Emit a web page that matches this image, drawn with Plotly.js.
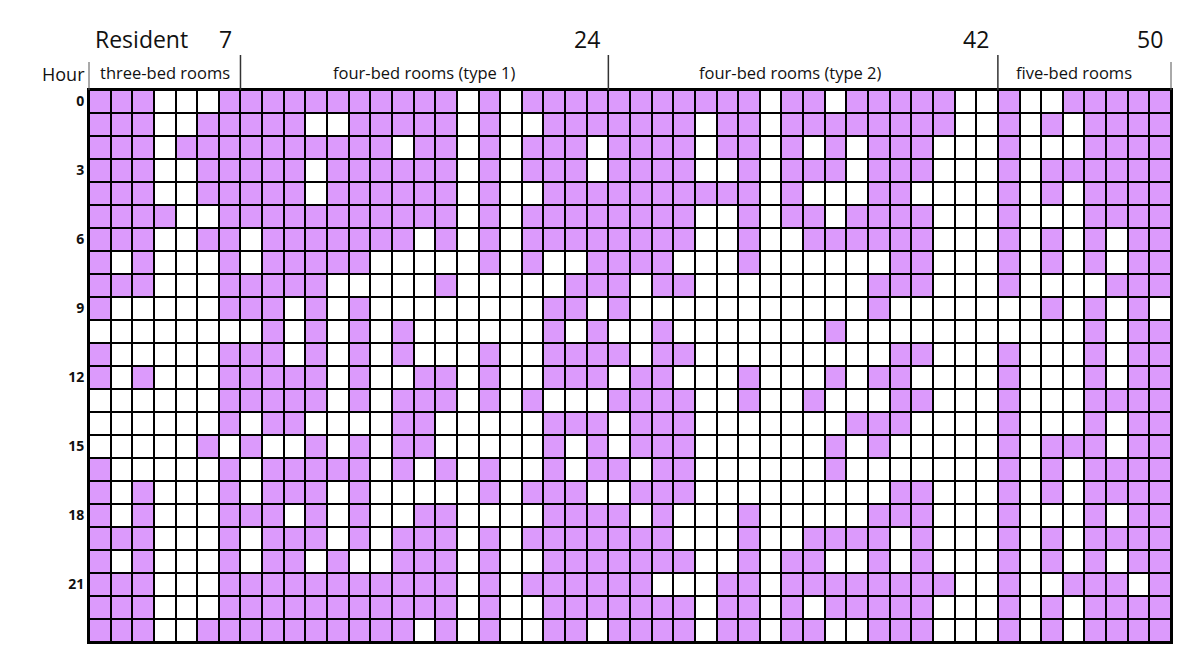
<!DOCTYPE html>
<html>
<head>
<meta charset="utf-8">
<script src="https://cdn.plot.ly/plotly-3.0.1.min.js"></script>
<style>
  html, body { margin: 0; padding: 0; background: #ffffff; }
  #chart { width: 1177px; height: 660px; }
</style>
</head>
<body>
<div id="chart"></div>
<script>
// ---------- data ----------
const residents = [];
for (let i = 1; i <= 50; i++) residents.push(i);
const hours = [];
for (let h = 0; h <= 23; h++) hours.push(h);
const hourTicks = [0, 3, 6, 9, 12, 15, 18, 21];

const groupNames = ["three-bed rooms", "four-bed rooms (type 1)", "four-bed rooms (type 2)", "five-bed rooms"];
const groupFirst = [1, 8, 25, 43];
const groupLast = [7, 24, 42, 50];

// 1 = present (purple), 0 = absent (white); one string per hour, residents 1..50
const presence = [
  "1110001111111 1111010111111 1111101101111 10010011111",
  "1110011111001 1111010011111 1101101111111 10010101111",
  "1110111111111 1011010111011 1101101010111 00010001111",
  "1110011111011 1111010111011 1100101110111 00010111111",
  "1110011111011 1111010011111 1111101000110 00010101111",
  "1111001111111 1111010111111 1100101101111 00010001111",
  "1110011011111 1101010111111 1100100111111 00010101011",
  "1010001011111 0000010100111 1000100000011 00010101011",
  "1110001111100 0001000001110 1100000000111 00010000111",
  "1000001110101 0000000011010 0000000000100 00000101010",
  "0000000010101 0100000010100 1000000010000 00000001011",
  "1000001110101 0100010011110 1100000000011 00010001011",
  "1010001111101 0011010011101 1000100010110 00010001011",
  "0000001111101 0111010100011 1100100100011 00010001111",
  "0000001011000 0110000011101 1100000001110 00010001011",
  "0000010100101 0110000010101 1100000010100 00010111011",
  "1000001011111 0101010010110 1100000010000 00010101111",
  "1010001011101 0000010111001 1100000000011 00010101111",
  "1010001110101 0011000011110 1000100000111 00010001011",
  "1110001011101 0111010111111 1000100111101 00010101111",
  "1010001011010 0111010011111 1100101100101 00010101011",
  "1110001111111 1111010111111 0001101111111 10010011101",
  "1110001111111 1111010011111 1101101011111 00010101111",
  "1110011111111 1101010011011 1101101100111 00010101111"
];

// ---------- build ----------
const z = presence.map(s => s.replace(/\s/g, '').split('').map(Number));
const PURPLE = '#DC9AFC';
const FONT = "'Open Sans', 'Liberation Sans', sans-serif";
const labelShift = [0, 0, -0.6, -0.5]; // small horizontal nudges of group labels

const trace = {
  type: 'heatmap',
  x: residents,
  y: hours,
  z: z,
  zmin: 0, zmax: 1,
  colorscale: [[0, '#ffffff'], [0.5, '#ffffff'], [0.5, PURPLE], [1, PURPLE]],
  showscale: false,
  xgap: 2, ygap: 2,
  hovertemplate: 'Resident %{x}<br>Hour %{y}<extra></extra>'
};

const plotH = 552;
const pyAbove = px => 1 + px / plotH; // px above the top of the grid -> paper y

const annotations = [];
const shapes = [];

annotations.push({ xref: 'paper', yref: 'paper', x: 0.004, y: pyAbove(51), xanchor: 'left', yanchor: 'middle',
  text: 'Resident', showarrow: false, font: { family: FONT, size: 23, color: '#111' } });
annotations.push({ xref: 'paper', yref: 'paper', x: -0.002, y: pyAbove(16), xanchor: 'right', yanchor: 'middle',
  text: 'Hour', showarrow: false, font: { family: FONT, size: 18, color: '#111', weight: 500 } });

for (let g = 0; g < groupNames.length; g++) {
  annotations.push({ xref: 'x', yref: 'paper', x: (groupFirst[g] + groupLast[g]) / 2 + labelShift[g], y: pyAbove(17),
    xanchor: 'center', yanchor: 'middle', text: groupNames[g], showarrow: false,
    font: { family: FONT, size: 16.5, color: '#111' } });
  annotations.push({ xref: 'x', yref: 'paper', x: groupLast[g] + 0.2, y: pyAbove(51),
    xanchor: 'right', yanchor: 'middle', text: String(groupLast[g]), showarrow: false,
    font: { family: FONT, size: 23, color: '#111' } });
  if (g < groupNames.length - 1) {
    shapes.push({ type: 'line', xref: 'x', yref: 'paper', x0: groupLast[g] + 0.5, x1: groupLast[g] + 0.5,
      y0: 1, y1: pyAbove(35), line: { color: '#333', width: 1.5 } });
  }
}
// borders of the group-label band
shapes.push({ type: 'line', xref: 'paper', yref: 'paper', x0: 0, x1: 0, y0: 1, y1: pyAbove(28), line: { color: '#555', width: 1 } });
shapes.push({ type: 'line', xref: 'paper', yref: 'paper', x0: 1, x1: 1, y0: 1, y1: pyAbove(28), line: { color: '#555', width: 1 } });

const layout = {
  width: 1177, height: 660,
  margin: { l: 89, r: 6, t: 90, b: 18, pad: 0 },
  paper_bgcolor: '#ffffff',
  plot_bgcolor: '#000000',
  showlegend: false,
  xaxis: { range: [0.5, 50.5], showticklabels: false, ticks: '', showgrid: false, zeroline: false,
    showline: true, mirror: true, linecolor: '#000', linewidth: 2, fixedrange: true },
  yaxis: { range: [23.5, -0.5], tickmode: 'array', tickvals: hourTicks, ticktext: hourTicks.map(String),
    ticks: '', ticklen: 0, showgrid: false, zeroline: false, showline: true, mirror: true,
    linecolor: '#000', linewidth: 2, fixedrange: true,
    tickfont: { family: FONT, size: 14, color: '#111', weight: 'bold' } },
  annotations: annotations,
  shapes: shapes
};

Plotly.newPlot('chart', [trace], layout, { displayModeBar: false, responsive: false });
</script>
</body>
</html>
